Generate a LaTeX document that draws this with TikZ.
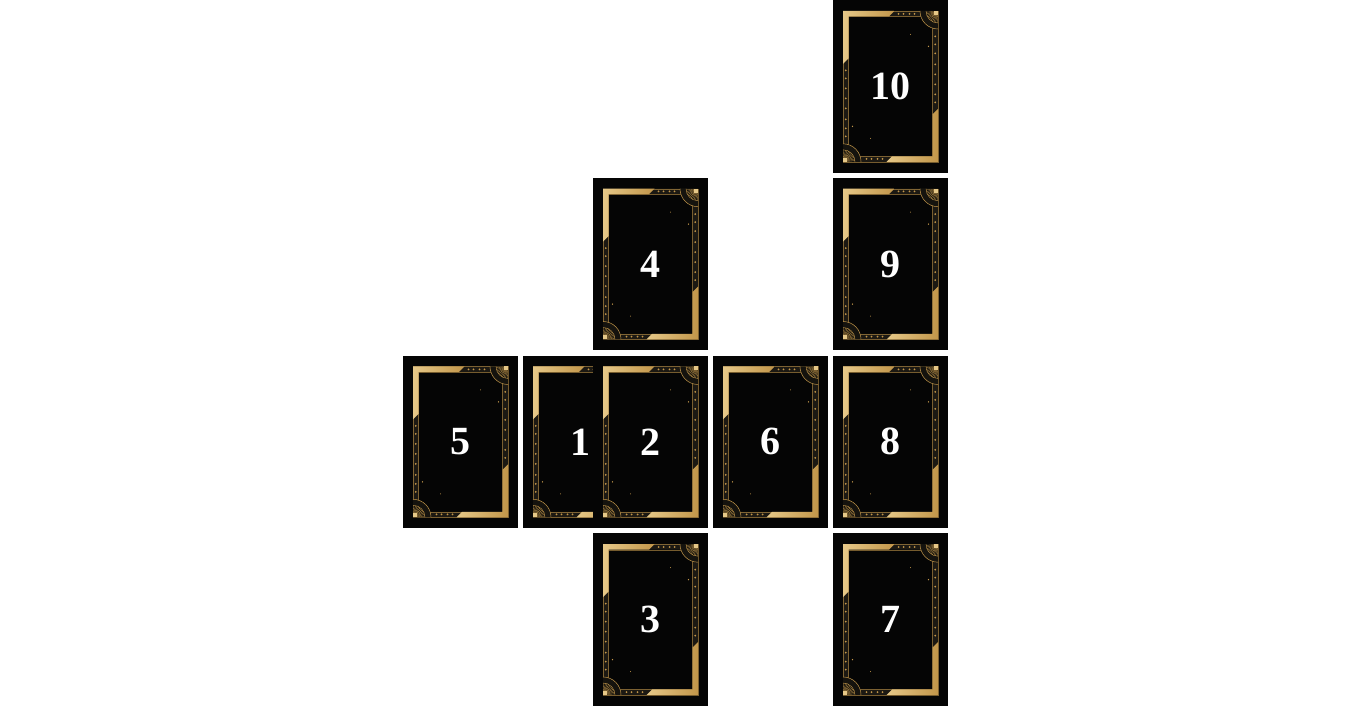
\documentclass[tikz,border=0pt]{standalone}
\usepackage{fontspec}
\setmainfont{Liberation Serif}
\definecolor{tcblack}{HTML}{050505}
\definecolor{tcgoldlight}{HTML}{E6C888}
\definecolor{tcgold}{HTML}{C2964A}
\definecolor{tcband}{HTML}{1C1913}
\definecolor{tcfan}{HTML}{15130E}

% one half of the gilt frame; drawn once and once more turned round
\newcommand{\tchalf}{%
  \shade[left color=tcgoldlight, right color=tcgold]
    (-47.5,75.4) -- (4,75.4) -- (-1.5,69.9) -- (-42,69.9)
    -- (-42,28) -- (-47.5,22.5) -- cycle;
  \fill[tcfan] (47.5,75.4) -- (29.5,75.4)
    arc[start angle=180, end angle=270, radius=18] -- cycle;
  \draw[tcgold, line width=0.5pt] (29.5,75.4)
    arc[start angle=180, end angle=270, radius=18];
  \draw[tcgold, line width=0.4pt] (35.5,75.4)
    arc[start angle=180, end angle=270, radius=12];
  \foreach \ang in {186,194,...,266}
    \draw[tcgold, line width=0.3pt]
      ([shift={(47.5,75.4)}]\ang:4) -- ([shift={(47.5,75.4)}]\ang:12);
  \fill[tcgoldlight] (47.5,75.4) rectangle (43.5,71.4);
  \foreach \px in {8,13,19,24}
    \fill[tcgold] (\px,72.6) circle (1);
  \foreach \py in {50,42,33,22,12,2,-8,-16}
    \fill[tcgold] (44.7,\py) circle (1);
  \fill[tcgold] (38,40) circle (0.7) (-20,-52) circle (0.5);
}
\newcommand{\tcframe}{%
  \fill[tcband, even odd rule] (-47.5,-75.4) rectangle (47.5,75.4)
    (-42,-69.9) rectangle (42,69.9);
  \draw[tcgold, line width=0.3pt, opacity=0.6]
    (-47.5,-75.4) rectangle (47.5,75.4) (-42,-69.9) rectangle (42,69.9);
  \tchalf
  \begin{scope}[rotate=180]\tchalf\end{scope}
}
\tikzset{
  tcard/.style={
    fill=tcblack, minimum width=115pt, minimum height=172.75pt,
    inner sep=0pt, text=white, font=\fontsize{40}{40}\selectfont\bfseries},
}

\begin{document}
\begin{tikzpicture}[x=1pt, y=1pt]
\useasboundingbox (0,0) rectangle (1350,706);
\fill[white] (0,0) rectangle (1350,706);

% The spread; card 2 is laid across card 1.
\foreach \num/\cx/\cy in {10/890.5/619.6, 9/890.5/441.9, 8/890.5/264.1,
    7/890.5/86.4, 4/650.5/441.9, 3/650.5/86.4, 5/460.5/264.1,
    1/580.5/264.1, 2/650.5/264.1, 6/770.5/264.1} {
  \node[tcard] (card\num) at (\cx,\cy) {\num};
  \begin{scope}[shift={(card\num.center)}]
    \tcframe
  \end{scope}
}

\end{tikzpicture}
\end{document}
